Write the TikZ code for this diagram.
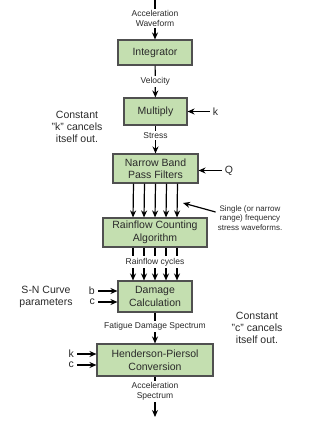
\documentclass[tikz,border=0pt]{standalone}
\usepackage{fontspec}
\setmainfont{Liberation Sans}
\usetikzlibrary{arrows.meta}
\definecolor{boxfill}{HTML}{C4DFB0}
\definecolor{boxline}{HTML}{505050}
\definecolor{txt}{HTML}{2A2A2A}
\begin{document}
\begin{tikzpicture}[x=1pt,y=-1pt,
  blk/.style={draw=boxline,fill=boxfill,line width=1.1pt,inner sep=0pt,align=center,
    text=txt,font=\fontsize{10.5}{12.5}\selectfont},
  lbl/.style={fill=white,inner sep=1.5pt,align=center,text=txt,
    font=\fontsize{8.5}{10}\selectfont},
  side/.style={inner sep=0pt,align=center,text=txt,font=\fontsize{10.5}{12}\selectfont},
  inp/.style={inner sep=3pt,text=txt,font=\fontsize{10.5}{12}\selectfont},
  note/.style={inner sep=0pt,align=center,text=txt,font=\fontsize{8}{9.5}\selectfont},
  arr/.style={line width=1.2pt,-{Stealth[length=7pt,width=6pt]}},
  ln/.style={line width=1.2pt}]
\useasboundingbox (0,0) rectangle (317,427);

% blocks
\node[blk,minimum width=74pt,minimum height=25pt] (int) at (155,52.5) {Integrator};
\node[blk,minimum width=63pt,minimum height=27pt] (mul) at (155.5,111.5) {Multiply};
\node[blk,minimum width=85pt,minimum height=29pt] (nb) at (155.5,168.5) {Narrow Band\\Pass Filters};
\node[blk,minimum width=104pt,minimum height=29pt] (rf) at (155,232.5) {Rainflow Counting\\Algorithm};
\node[blk,minimum width=74pt,minimum height=31pt] (dc) at (155,296.5) {Damage\\Calculation};
\node[blk,minimum width=116pt,minimum height=32pt] (hp) at (155,360) {Henderson-Piersol\\Conversion};

% main chain
\coordinate (top) at (155,0);
\coordinate (bot) at (155,417);
\draw[arr] (top) -- node[lbl,pos=0.475]{Acceleration\\Waveform} (int);
\draw[arr] (int) -- node[lbl,pos=0.5]{Velocity} (mul);
\draw[arr] (mul) -- node[lbl,pos=0.36]{Stress} (nb);
\foreach \dx in {-22,-11,0,11,22}
  \draw[arr] ([xshift=\dx pt]nb.south) -- ([xshift=\dx pt]rf.north);
\foreach \dx in {-22,-11,0,11,22}
  \draw[arr] ([xshift=\dx pt]rf.south) -- ([xshift=\dx pt]dc.north);
\node[lbl,inner ysep=2.5pt] (rc) at (155,262) {Rainflow cycles};
\draw[arr] (dc) -- node[lbl,pos=0.44]{Fatigue Damage Spectrum} (hp);
\draw[arr] (hp) -- node[lbl,pos=0.37]{Acceleration\\Spectrum} (bot);

% side inputs
\node[inp] (k1) at (215.5,111.5) {k};
\draw[arr] (k1) -- (mul);
\node[inp] (q) at (229,170.5) {Q};
\draw[arr] (q.west) -- (q.west -| nb.east);
\node[inp,anchor=east] (b) at (98,291) {b};
\draw[arr] (b.east) -- (b.east -| dc.west);
\node[inp,anchor=east] (c1) at (98,302) {c};
\draw[arr] (c1.east) -- (c1.east -| dc.west);
\node[inp,anchor=east] (k2) at (77,354) {k};
\draw[arr] (k2.east) -- (k2.east -| hp.west);
\node[inp,anchor=east] (c2) at (77,365) {c};
\draw[arr] (c2.east) -- (c2.east -| hp.west);

% side texts
\node[side] (ck) at (77,127) {Constant\\"k" cancels\\itself out.};
\node[side] (sn) at (46,297) {S-N Curve\\parameters};
\node[side] (cc) at (257,328) {Constant\\"c" cancels\\itself out.};

% annotation
\node[note] (ann) at (250,218) {Single (or narrow\\range) frequency\\stress waveforms.};
\coordinate (tip) at (183,203);
\draw[arr] ([xshift=-2pt,yshift=6pt]ann.west) -- (tip);
\end{tikzpicture}
\end{document}
